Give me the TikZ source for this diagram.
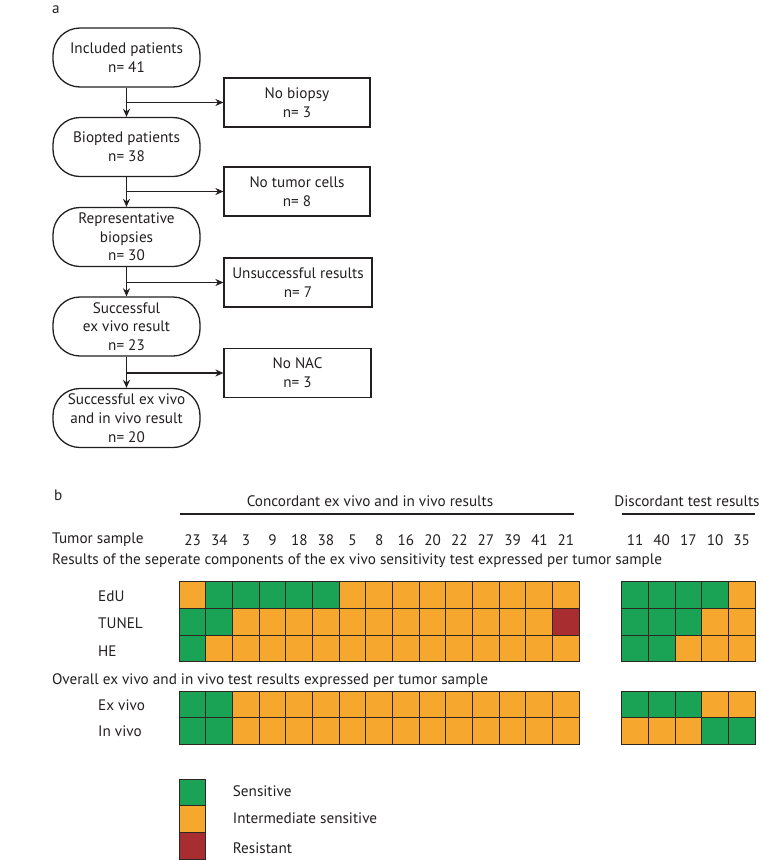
\documentclass[tikz,border=0pt]{standalone}
\usepackage{fontspec}
\setmainfont{PT Sans}
\usetikzlibrary{arrows.meta}
\definecolor{ink}{HTML}{231F20}
\definecolor{cellline}{HTML}{2E2620}
\definecolor{gr}{HTML}{1AA355}
\definecolor{og}{HTML}{F6A72D}
\definecolor{rd}{HTML}{A82D30}
\begin{document}
\begin{tikzpicture}[x=1pt,y=-1pt,
  txt/.style={font=\fontsize{15.2}{18.7}\selectfont, text=ink, inner sep=0pt},
  pill/.style={txt, draw=ink, line width=1.3pt, rounded corners=27pt, minimum width=147pt, minimum height=59pt, align=center},
  sbox/.style={txt, draw=ink, line width=1.2pt, minimum height=49pt, align=center},
  arr/.style={draw=ink, line width=1.3pt, -{Stealth[length=8pt,width=7pt]}},
  cell/.style={draw=cellline, line width=1pt},
  rule/.style={draw=ink, line width=1.2pt}]
\useasboundingbox (0,0) rectangle (762,860);

% ---------- panel a ----------
\node[txt, anchor=base west] (la) at (52,13) {a};
\node[pill] (inc) at (126.5,57.5) {Included patients\\n= 41};
\node[pill] (bio) at (126.5,147) {Biopted patients\\n= 38};
\node[pill] (rep) at (126.5,237) {Representative\\biopsies\\n= 30};
\node[pill] (suc) at (126.5,326.5) {Successful\\ex vivo result\\n= 23};
\node[pill] (fin) at (126.5,418) {Successful ex vivo\\and in vivo result\\n= 20};

\node[sbox, minimum width=146pt] (nob) at (297,102.5) {No biopsy\\n= 3};
\node[sbox, minimum width=146pt] (ntc) at (297,191.5) {No tumor cells\\n= 8};
\node[sbox, minimum width=148pt] (uns) at (298,282.5) {Unsuccessful results\\n= 7};
\node[sbox, minimum width=147pt] (nac) at (297.5,373) {No NAC\\n= 3};

\draw[arr] (inc.south) -- (bio.north);
\draw[arr] (bio.south) -- (rep.north);
\draw[arr] (rep.south) -- (suc.north);
\draw[arr] (suc.south) -- (fin.north);
\draw[arr] (inc.south |- nob.west) -- (nob.west);
\draw[arr] (bio.south |- ntc.west) -- (ntc.west);
\draw[arr] (rep.south |- uns.west) -- (uns.west);
\draw[arr] (suc.south |- nac.west) -- (nac.west);

% ---------- panel b ----------
\node[txt, anchor=base west] (lb) at (54,500) {b};
\node[txt, anchor=base] (tcon) at (370,506) {Concordant ex vivo and in vivo results};
\node[txt, anchor=base] (tdis) at (687,506) {Discordant test results};
\draw[rule] (180,514) -- (574,514);
\draw[rule] (622,514) -- (755,514);

\node[txt, anchor=base west] (ts) at (52,543) {Tumor sample};
\foreach \n [count=\i from 0] in {23,34,3,9,18,38,5,8,16,20,22,27,39,41,21}
  \node[txt, anchor=base] (nc\i) at ({179.3+(\i+0.5)*26.667},545) {\n};
\foreach \n [count=\i from 0] in {11,40,17,10,35}
  \node[txt, anchor=base] (nd\i) at ({621.7+(\i+0.5)*26.667},545) {\n};

\node[txt, anchor=base west] (res) at (52,564) {Results of the seperate components of the ex vivo sensitivity test expressed per tumor sample};
\node[txt, anchor=base west] (ovr) at (52,684) {Overall ex vivo and in vivo test results expressed per tumor sample};

\node[txt, anchor=base west] (r1) at (98,601.7) {EdU};
\node[txt, anchor=base west] (r2) at (98,628.3) {TUNEL};
\node[txt, anchor=base west] (r3) at (98,656.7) {HE};
\node[txt, anchor=base west] (r4) at (98,710) {Ex vivo};
\node[txt, anchor=base west] (r5) at (98,736.7) {In vivo};

% concordant grid
\foreach \c [count=\i from 0] in {og,gr,gr,gr,gr,gr,og,og,og,og,og,og,og,og,og}
  \filldraw[cell, fill=\c] ({179.3+\i*26.667},581.7) rectangle ++(26.667,26.667);
\foreach \c [count=\i from 0] in {gr,gr,og,og,og,og,og,og,og,og,og,og,og,og,rd}
  \filldraw[cell, fill=\c] ({179.3+\i*26.667},608.367) rectangle ++(26.667,26.667);
\foreach \c [count=\i from 0] in {gr,og,og,og,og,og,og,og,og,og,og,og,og,og,og}
  \filldraw[cell, fill=\c] ({179.3+\i*26.667},635.033) rectangle ++(26.667,26.667);
\foreach \c [count=\i from 0] in {gr,gr,og,og,og,og,og,og,og,og,og,og,og,og,og}
  \filldraw[cell, fill=\c] ({179.3+\i*26.667},691) rectangle ++(26.667,26.667);
\foreach \c [count=\i from 0] in {gr,gr,og,og,og,og,og,og,og,og,og,og,og,og,og}
  \filldraw[cell, fill=\c] ({179.3+\i*26.667},717.667) rectangle ++(26.667,26.667);

% discordant grid
\foreach \c [count=\i from 0] in {gr,gr,gr,gr,og}
  \filldraw[cell, fill=\c] ({621.7+\i*26.667},581.7) rectangle ++(26.667,26.667);
\foreach \c [count=\i from 0] in {gr,gr,gr,og,og}
  \filldraw[cell, fill=\c] ({621.7+\i*26.667},608.367) rectangle ++(26.667,26.667);
\foreach \c [count=\i from 0] in {gr,gr,og,og,og}
  \filldraw[cell, fill=\c] ({621.7+\i*26.667},635.033) rectangle ++(26.667,26.667);
\foreach \c [count=\i from 0] in {gr,gr,gr,og,og}
  \filldraw[cell, fill=\c] ({621.7+\i*26.667},691) rectangle ++(26.667,26.667);
\foreach \c [count=\i from 0] in {og,og,og,gr,gr}
  \filldraw[cell, fill=\c] ({621.7+\i*26.667},717.667) rectangle ++(26.667,26.667);

% legend
\filldraw[cell, fill=gr] (179.3,779) rectangle ++(26.667,26.667);
\filldraw[cell, fill=og] (179.3,805.667) rectangle ++(26.667,26.667);
\filldraw[cell, fill=rd] (179.3,832.333) rectangle ++(26.667,26.667);
\node[txt, anchor=base west] (l1) at (232.7,796.7) {Sensitive};
\node[txt, anchor=base west] (l2) at (232.7,823.3) {Intermediate sensitive};
\node[txt, anchor=base west] (l3) at (232.7,853.3) {Resistant};
\end{tikzpicture}
\end{document}
